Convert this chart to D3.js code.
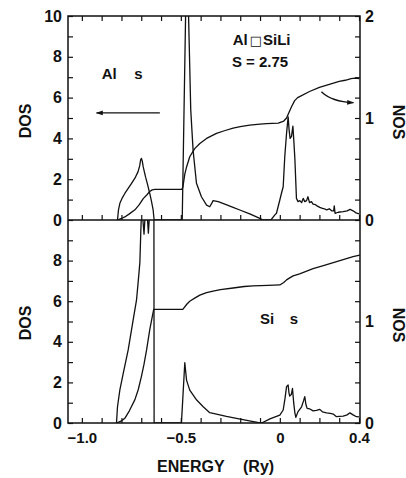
<!DOCTYPE html>
<html>
<head>
<meta charset="utf-8">
<script src="https://cdn.jsdelivr.net/npm/d3@7"></script>
<style>
  html, body { margin: 0; padding: 0; background: #fff; }
  svg { display: block; }
  text { font-family: "Liberation Sans", Arial, sans-serif; fill: #111; }
</style>
</head>
<body>
<svg id="chart" width="406" height="478"></svg>
<script>
// Al s partial density of states (upper panel), [energy Ry, states/Ry]
const alDos = [
  [-0.820, 0], [-0.815, 0.5], [-0.808, 0.82], [-0.795, 1.1], [-0.783, 1.3], [-0.766, 1.55],
  [-0.749, 1.8], [-0.732, 2.05], [-0.716, 2.37], [-0.708, 2.65], [-0.703, 2.95], [-0.699, 3.02],
  [-0.695, 2.9], [-0.690, 2.6], [-0.684, 2.35], [-0.678, 2.1], [-0.667, 1.7], [-0.657, 1.3],
  [-0.648, 0.9], [-0.640, 0.5], [-0.635, 0], [-0.493, 0], [-0.476, 10], [-0.468, 11],
  [-0.461, 10], [-0.450, 5.4], [-0.438, 3.4], [-0.421, 1.8], [-0.396, 1.14], [-0.370, 0.73],
  [-0.354, 0.65], [-0.345, 0.8], [-0.337, 0.95], [-0.311, 0.9], [-0.278, 0.78], [-0.236, 0.62],
  [-0.202, 0.49], [-0.152, 0.3], [-0.101, 0.08], [-0.085, 0], [-0.045, 0], [-0.025, 0.25],
  [-0.017, 0.33], [0.000, 0.98], [0.008, 1.3], [0.017, 1.63], [0.025, 3.1], [0.034, 4.25],
  [0.042, 5.06], [0.047, 4.4], [0.052, 4.0], [0.059, 4.1], [0.066, 4.6], [0.070, 4.0],
  [0.076, 3.0], [0.084, 1.06], [0.092, 0.9], [0.101, 0.95], [0.110, 0.85], [0.118, 1.06],
  [0.126, 0.9], [0.135, 0.95], [0.142, 1.14], [0.150, 0.85], [0.160, 0.9], [0.168, 0.78],
  [0.180, 0.75], [0.190, 0.68], [0.202, 0.62], [0.212, 0.58], [0.225, 0.55], [0.236, 0.5],
  [0.250, 0.55], [0.262, 0.45], [0.272, 0.45], [0.275, 0.69], [0.279, 0.33], [0.295, 0.38],
  [0.320, 0.41], [0.340, 0.45], [0.355, 0.52], [0.370, 0.45], [0.385, 0.35], [0.400, 0.3]
];

// Al s integrated number of states (upper panel)
const alNos = [
  [-0.820, 0], [-0.800, 0.015], [-0.783, 0.03], [-0.760, 0.06], [-0.732, 0.10], [-0.710, 0.15],
  [-0.690, 0.21], [-0.670, 0.25], [-0.657, 0.28], [-0.645, 0.295], [-0.631, 0.30], [-0.495, 0.30],
  [-0.490, 0.32], [-0.480, 0.45], [-0.471, 0.52], [-0.455, 0.62], [-0.430, 0.70], [-0.404, 0.75],
  [-0.370, 0.80], [-0.320, 0.85], [-0.280, 0.875], [-0.236, 0.90], [-0.200, 0.915], [-0.152, 0.93],
  [-0.100, 0.94], [-0.067, 0.945], [-0.008, 0.95], [0.020, 0.97], [0.034, 1.0], [0.045, 1.05],
  [0.059, 1.11], [0.075, 1.17], [0.090, 1.20], [0.100, 1.21], [0.150, 1.26], [0.200, 1.30],
  [0.250, 1.33], [0.300, 1.36], [0.330, 1.37], [0.360, 1.385], [0.380, 1.39], [0.400, 1.385]
];

// Si s partial density of states (lower panel)
const siDos = [
  [-0.825, 0], [-0.820, 0.8], [-0.808, 1.63], [-0.791, 2.45], [-0.766, 3.6], [-0.741, 5.07],
  [-0.724, 6.05], [-0.715, 7.0], [-0.707, 7.9], [-0.702, 9.5], [-0.699, 10.3], [-0.694, 10.3],
  [-0.686, 9.3], [-0.680, 10.3], [-0.670, 10.3], [-0.664, 9.35], [-0.658, 10.3], [-0.636, 10.3],
  [-0.635, 0], [-0.497, 0], [-0.480, 2.97], [-0.471, 2.1], [-0.455, 1.62], [-0.420, 1.13],
  [-0.387, 0.80], [-0.354, 0.51], [-0.320, 0.44], [-0.270, 0.33], [-0.219, 0.23], [-0.160, 0.12],
  [-0.100, 0], [-0.092, 0], [-0.050, 0.2], [0.000, 0.39], [0.017, 0.64], [0.026, 1.2],
  [0.034, 1.79], [0.042, 1.87], [0.046, 1.5], [0.050, 1.33], [0.058, 1.4], [0.064, 1.7],
  [0.070, 1.0], [0.076, 0.5], [0.081, 0.28], [0.092, 0.56], [0.110, 0.8], [0.120, 1.1],
  [0.126, 1.3], [0.132, 0.9], [0.138, 0.72], [0.150, 0.7], [0.168, 0.6], [0.185, 0.62],
  [0.202, 0.67], [0.215, 0.55], [0.236, 0.5], [0.255, 0.47], [0.270, 0.44], [0.286, 0.31],
  [0.300, 0.33], [0.320, 0.34], [0.340, 0.4], [0.354, 0.5], [0.370, 0.4], [0.387, 0.31],
  [0.400, 0.3]
];

// Si s integrated number of states (lower panel)
const siNos = [
  [-0.825, 0], [-0.800, 0.02], [-0.783, 0.046], [-0.760, 0.12], [-0.732, 0.23], [-0.715, 0.33],
  [-0.699, 0.46], [-0.686, 0.58], [-0.673, 0.72], [-0.657, 0.92], [-0.645, 1.04], [-0.637, 1.12],
  [-0.490, 1.12], [-0.470, 1.17], [-0.455, 1.20], [-0.430, 1.23], [-0.404, 1.26], [-0.370, 1.285],
  [-0.337, 1.30], [-0.300, 1.315], [-0.236, 1.33], [-0.180, 1.345], [-0.135, 1.35], [-0.060, 1.355],
  [0.000, 1.36], [0.020, 1.385], [0.034, 1.41], [0.050, 1.43], [0.067, 1.45], [0.100, 1.47],
  [0.168, 1.52], [0.220, 1.55], [0.270, 1.58], [0.320, 1.61], [0.370, 1.64], [0.404, 1.655]
];

// Axis ticks and labels
const energyTicks = [-1.0, -0.9, -0.8, -0.7, -0.6, -0.5, -0.4, -0.3, -0.2, -0.1, 0, 0.1, 0.2, 0.3, 0.4];
const energyLabels = [[-1.0, "\u22121.0"], [-0.5, "\u22120.5"], [0, "0"], [0.4, "0.4"]];
const dosTicksTop = [0, 1, 2, 3, 4, 5, 6, 7, 8, 9, 10];
const dosTicksBottom = [0, 1, 2, 3, 4, 5, 6, 7, 8, 9];
const dosLabeled = [0, 2, 4, 6, 8, 10];
const nosTicksTop = [0, 0.2, 0.4, 0.6, 0.8, 1, 1.2, 1.4, 1.6, 1.8, 2];
const nosTicksBottom = [0, 0.2, 0.4, 0.6, 0.8, 1, 1.2, 1.4, 1.6, 1.8];
const nosLabeled = [0, 1, 2];

// Layout
const L = 68, R = 360, T = 16, M = 220, B = 423;

const svg = d3.select("#chart");

const x = d3.scaleLinear().domain([-1.07, 0.405]).range([L, R]);
const yDosTop = d3.scaleLinear().domain([0, 10]).range([M, T]);
const yNosTop = d3.scaleLinear().domain([0, 2]).range([M, T]);
const yDosBot = d3.scaleLinear().domain([0, 10]).range([B, M]);
const yNosBot = d3.scaleLinear().domain([0, 2]).range([B, M]);

const defs = svg.append("defs");
defs.append("clipPath").attr("id", "clipTop")
  .append("rect").attr("x", L).attr("y", T).attr("width", R - L).attr("height", M - T);
defs.append("clipPath").attr("id", "clipBot")
  .append("rect").attr("x", L).attr("y", M).attr("width", R - L).attr("height", B - M);
defs.append("marker").attr("id", "head")
  .attr("viewBox", "0 0 10 10").attr("refX", 9).attr("refY", 5)
  .attr("markerWidth", 9).attr("markerHeight", 7).attr("markerUnits", "userSpaceOnUse")
  .attr("orient", "auto")
  .append("path").attr("d", "M0,1.5 L10,5 L0,8.5 Z").attr("fill", "#111");

const lineStyle = sel => sel.attr("fill", "none").attr("stroke", "#111")
  .attr("stroke-width", 1.3).attr("stroke-linejoin", "round");

function curve(data, ys, clip) {
  const gen = d3.line().x(d => x(d[0])).y(d => ys(d[1]));
  svg.append("path").datum(data).attr("d", gen)
    .attr("clip-path", `url(#${clip})`).call(lineStyle);
}

curve(alDos, yDosTop, "clipTop");
curve(alNos, yNosTop, "clipTop");
curve(siDos, yDosBot, "clipBot");
curve(siNos, yNosBot, "clipBot");

// Frame and dividing line
svg.append("rect").attr("x", L).attr("y", T).attr("width", R - L).attr("height", B - T)
  .attr("fill", "none").attr("stroke", "#111").attr("stroke-width", 1.5);
svg.append("line").attr("x1", L).attr("x2", R).attr("y1", M).attr("y2", M)
  .attr("stroke", "#111").attr("stroke-width", 1.5);

function styleAxis(g, size) {
  g.select(".domain").remove();
  g.selectAll(".tick line").attr("stroke", "#111").attr("stroke-width", 1.2);
  g.selectAll(".tick text").attr("font-size", size).attr("font-weight", "bold").attr("fill", "#111");
}

const tickLen = -5;
const dosFmt = d => dosLabeled.includes(d) ? d : "";
const nosFmt = d => nosLabeled.includes(Math.round(d * 10) / 10) && Number.isInteger(Math.round(d * 10) / 10) ? d : "";

// Left (DOS) axes
svg.append("g").attr("transform", `translate(${L},0)`)
  .call(d3.axisLeft(yDosTop).tickValues(dosTicksTop).tickSize(tickLen).tickPadding(6).tickFormat(dosFmt))
  .call(g => styleAxis(g, 16));
svg.append("g").attr("transform", `translate(${L},0)`)
  .call(d3.axisLeft(yDosBot).tickValues(dosTicksBottom).tickSize(tickLen).tickPadding(6).tickFormat(dosFmt))
  .call(g => styleAxis(g, 16));

// Right (NOS) axes
svg.append("g").attr("transform", `translate(${R},0)`)
  .call(d3.axisRight(yNosTop).tickValues(nosTicksTop).tickSize(tickLen).tickPadding(5).tickFormat(nosFmt))
  .call(g => styleAxis(g, 16));
svg.append("g").attr("transform", `translate(${R},0)`)
  .call(d3.axisRight(yNosBot).tickValues(nosTicksBottom).tickSize(tickLen).tickPadding(5).tickFormat(nosFmt))
  .call(g => styleAxis(g, 16));

// Energy axes: top edge, dividing line, bottom edge with labels
const labelMap = new Map(energyLabels);
svg.append("g").attr("transform", `translate(0,${T})`)
  .call(d3.axisTop(x).tickValues(energyTicks).tickSize(tickLen).tickFormat(""))
  .call(g => styleAxis(g, 15));
svg.append("g").attr("transform", `translate(0,${M})`)
  .call(d3.axisBottom(x).tickValues(energyTicks).tickSize(tickLen).tickFormat(""))
  .call(g => styleAxis(g, 15));
svg.append("g").attr("transform", `translate(0,${B})`)
  .call(d3.axisBottom(x).tickValues(energyTicks).tickSize(tickLen).tickPadding(9)
    .tickFormat(d => labelMap.get(Math.round(d * 10) / 10) || ""))
  .call(g => styleAxis(g, 15));

// Axis titles
function title(txt, cx, cy, rot, size) {
  svg.append("text").attr("transform", `translate(${cx},${cy}) rotate(${rot})`)
    .attr("text-anchor", "middle").attr("dominant-baseline", "central")
    .attr("font-size", size).attr("font-weight", "bold").text(txt);
}
title("DOS", 25, 121, -90, 16);
title("DOS", 25, 323, -90, 16);
title("NOS", 398, 122, 90, 16);
title("NOS", 398, 325, 90, 16);

const xt = svg.append("text").attr("x", 157).attr("y", 472).attr("font-size", 16).attr("font-weight", "bold");
xt.append("tspan").text("ENERGY");
xt.append("tspan").attr("x", 243).text("(Ry)");

// Panel annotations
const alLabel = svg.append("text").attr("x", x(-0.900)).attr("y", yDosTop(6.9))
  .attr("font-size", 15).attr("font-weight", "bold");
alLabel.append("tspan").text("Al");
alLabel.append("tspan").attr("x", x(-0.735)).text("s");

const sysLabel = svg.append("text").attr("x", x(-0.238)).attr("y", yDosTop(8.6))
  .attr("font-size", 15).attr("font-weight", "bold");
sysLabel.append("tspan").text("Al");
sysLabel.append("tspan").attr("font-family", "DejaVu Sans").attr("font-size", 13).attr("dx", 2).text("\u25A1");
sysLabel.append("tspan").attr("dx", 1).text("SiLi");

svg.append("text").attr("x", x(-0.242)).attr("y", yDosTop(7.5))
  .attr("font-size", 15).attr("font-weight", "bold").text("S = 2.75");

const siLabel = svg.append("text").attr("x", x(-0.100)).attr("y", yDosBot(4.9))
  .attr("font-size", 15).attr("font-weight", "bold");
siLabel.append("tspan").text("Si");
siLabel.append("tspan").attr("x", x(0.050)).text("s");

// Arrows pointing to the axis each curve belongs to
svg.append("line")
  .attr("x1", x(-0.606)).attr("y1", yDosTop(5.25))
  .attr("x2", x(-0.926)).attr("y2", yDosTop(5.25))
  .attr("stroke", "#111").attr("stroke-width", 1.3).attr("marker-end", "url(#head)");

svg.append("path")
  .attr("d", `M${x(0.210)},${yNosTop(1.258)} Q${x(0.262)},${yNosTop(1.16)} ${x(0.372)},${yNosTop(1.15)}`)
  .attr("fill", "none").attr("stroke", "#111").attr("stroke-width", 1.3).attr("marker-end", "url(#head)");
</script>
</body>
</html>
